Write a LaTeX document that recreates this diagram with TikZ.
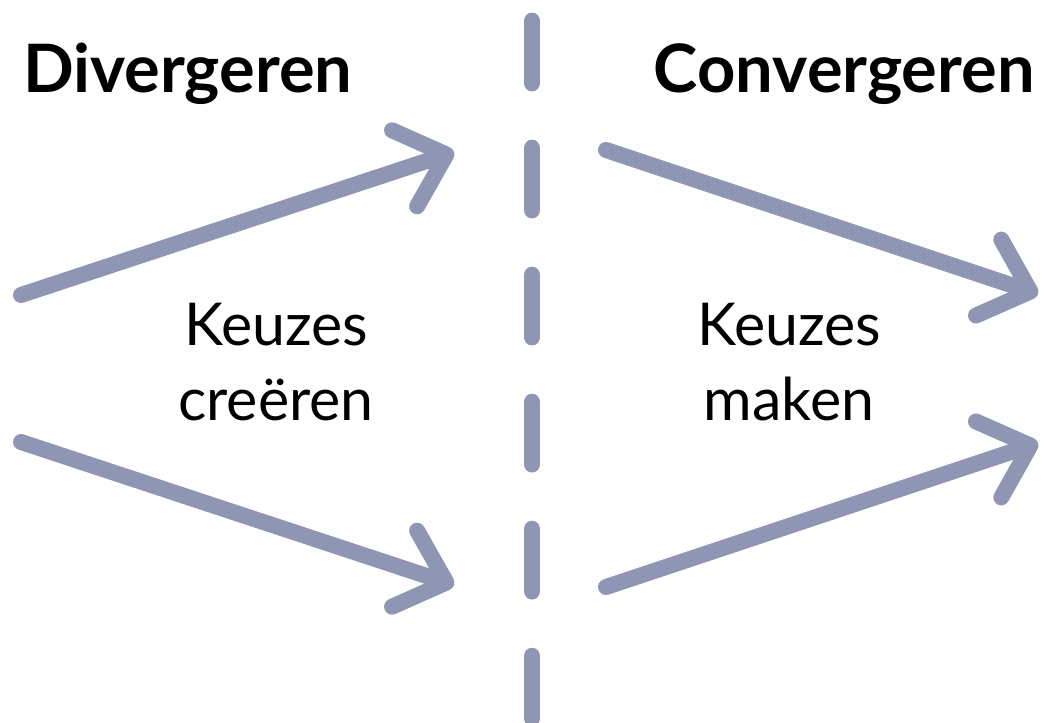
\documentclass[tikz,border=0pt]{standalone}
\usepackage{fontspec}
\setmainfont{Lato}
\usetikzlibrary{arrows.meta,positioning}
\definecolor{pijlblauw}{RGB}{143,150,180}
\tikzstyle{flow}=[draw=pijlblauw, line width=0.4cm, line cap=round, line join=round, -{Straight Barb[round, length=1.1cm, width=2cm]}]
\tikzstyle{divider}=[draw=pijlblauw, line width=0.42cm, line cap=round, dash pattern=on 1.55cm off 1.625cm]
\tikzstyle{heading}=[inner sep=0pt, font=\fontsize{47.5}{55}\bfseries\selectfont]
\tikzstyle{keuze}=[inner sep=0pt, anchor=base, font=\fontsize{42}{53}\selectfont]

\begin{document}
\begin{tikzpicture}[x=0.025cm, y=-0.025cm]
            \useasboundingbox (0,0) rectangle (1048,723);

            % kopjes
            \node[heading, anchor=base west] (div) at (23,92) {Divergeren};
            \node[heading, anchor=base east] (conv) at (1035,92) {Convergeren};

            % tekst tussen de pijlen
            \node[keuze] (keuzes1) at (276,345) {Keuzes};
            \node[keuze] (creeren) at (276,420) {creëren};
            \node[keuze] (keuzes2) at (789,345) {Keuzes};
            \node[keuze] (maken) at (789,420) {maken};

            % scheidingslijn
            \coordinate (top) at (532,21);
            \coordinate (bottom) at (532,723);
            \path[divider] (top) -- (bottom);

            % pijlen
            \coordinate (l1) at (21,295);
            \coordinate (l2) at (21,442);
            \coordinate (lt) at (454,152);
            \coordinate (lb) at (454,585);
            \coordinate (r1) at (606,150);
            \coordinate (r2) at (606,587);
            \coordinate (rt) at (1038,294);
            \coordinate (rb) at (1038,443);
            \begin{scope}[every path/.style={flow}]
                \path (l1) -- (lt);
                \path (l2) -- (lb);
                \path (r1) -- (rt);
                \path (r2) -- (rb);
            \end{scope}
        \end{tikzpicture}
\end{document}
